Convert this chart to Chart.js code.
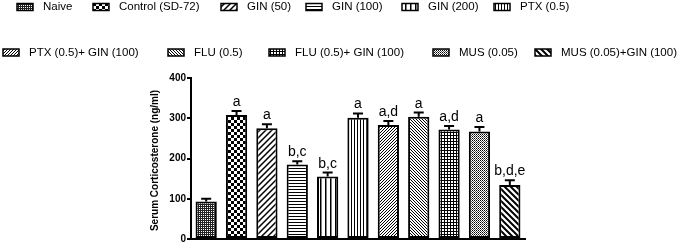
<!DOCTYPE html>
<html>
<head>
<meta charset="utf-8">
<script src="https://cdn.jsdelivr.net/npm/chart.js@4"></script>
<style>
    html, body { margin: 0; padding: 0; background: #fff; }
    #wrap { position: relative; width: 680px; height: 247px; }
</style>
</head>
<body>
<div id="wrap"><canvas id="chart" width="680" height="247"></canvas></div>
<script>
const groups = ['Naive', 'Control (SD-72)', 'GIN (50)', 'GIN (100)', 'GIN (200)', 'PTX (0.5)',
    'PTX (0.5)+ GIN (100)', 'FLU (0.5)', 'FLU (0.5)+ GIN (100)', 'MUS (0.05)', 'MUS (0.05)+GIN (100)'];
const means = [93, 308, 275, 185, 155, 301, 283, 304, 272, 267, 134];
const sems = [7, 10, 10, 8, 10, 11, 10, 10, 9, 11, 12];
const sigLetters = ['', 'a', 'a', 'b,c', 'b,c', 'a', 'a,d', 'a', 'a,d', 'a', 'b,d,e'];
const yTicks = [0, 100, 200, 300, 400];
const yTitle = 'Serum Corticosterone (ng/ml)';
const patternKinds = ['fineDots', 'checker', 'slash', 'hlines', 'vlinesWide', 'vlines',
    'fineSlash', 'fineBackslash', 'grid', 'greyDots', 'backslashWide'];

const FONT = '"Liberation Sans", Arial, sans-serif';

function makePattern(kind) {
    const c = document.createElement('canvas');
    let s = 6;
    if (['hlines', 'vlines', 'fineSlash', 'fineBackslash', 'grid'].includes(kind)) s = 3;
    if (kind === 'fineDots' || kind === 'greyDots') s = 2;
    if (kind === 'vlinesWide') s = 5;
    c.width = s;
    c.height = s;
    const g = c.getContext('2d');
    g.fillStyle = '#fff';
    g.fillRect(0, 0, s, s);
    g.fillStyle = '#000';
    g.strokeStyle = '#000';
    if (kind === 'fineDots') {
        g.fillStyle = '#222';
        g.fillRect(0, 0, 2, 2);
        g.fillStyle = '#fff';
        g.fillRect(1, 1, 1, 1);
    } else if (kind === 'greyDots') {
        g.fillRect(0, 0, 1, 1);
        g.fillStyle = '#555';
        g.fillRect(1, 1, 1, 1);
    } else if (kind === 'checker') {
        g.fillRect(0, 0, 3, 3);
        g.fillRect(3, 3, 3, 3);
    } else if (kind === 'hlines') {
        g.fillRect(0, 0, s, 1);
    } else if (kind === 'vlines') {
        g.fillRect(0, 0, 1, s);
    } else if (kind === 'vlinesWide') {
        g.fillRect(0, 0, 1.5, s);
    } else if (kind === 'grid') {
        g.fillRect(0, 0, s, 1);
        g.fillRect(0, 0, 1, s);
    } else {
        const back = kind.toLowerCase().includes('backslash');
        g.lineWidth = kind === 'backslashWide' ? 2 : (kind === 'slash' ? 1.5 : 1);
        g.beginPath();
        for (let k = -1; k <= 1; k++) {
            if (back) {
                g.moveTo(k * s - 1, -1);
                g.lineTo(k * s + s + 1, s + 1);
            } else {
                g.moveTo(k * s - 1, s + 1);
                g.lineTo(k * s + s + 1, -1);
            }
        }
        g.stroke();
    }
    return document.getElementById('chart').getContext('2d').createPattern(c, 'repeat');
}

const patterns = patternKinds.map(makePattern);

// legend rows are laid out like the original figure
const legendSlots = [
    [17, 7], [93, 7], [221, 7], [306, 7], [402, 7], [494, 7],
    [3, 52.5], [168, 52.5], [269, 52.5], [433, 52.5], [535, 52.5],
];

const legendPlugin = {
    id: 'figLegend',
    afterDraw(chart) {
        const ctx = chart.ctx;
        ctx.save();
        ctx.font = '11.5px ' + FONT;
        ctx.textBaseline = 'middle';
        ctx.textAlign = 'left';
        groups.forEach((name, i) => {
            const [x, y] = legendSlots[i];
            ctx.fillStyle = patterns[i];
            ctx.fillRect(x, y - 3.5, 16, 7);
            ctx.lineWidth = 1.5;
            ctx.strokeStyle = '#000';
            ctx.strokeRect(x, y - 3.5, 16, 7);
            ctx.fillStyle = '#000';
            ctx.fillText(name, x + 26, y);
        });

        // y axis title
        const area = chart.chartArea;
        ctx.translate(155, (area.top + area.bottom) / 2 + 2);
        ctx.rotate(-Math.PI / 2);
        ctx.font = 'bold 10px ' + FONT;
        ctx.textAlign = 'center';
        ctx.textBaseline = 'middle';
        ctx.fillText(yTitle, 0, 0);
        ctx.restore();
    },
};

const errorPlugin = {
    id: 'errorBars',
    afterDatasetsDraw(chart) {
        const ctx = chart.ctx;
        const yScale = chart.scales.y;
        const meta = chart.getDatasetMeta(0);
        ctx.save();
        ctx.strokeStyle = '#000';
        ctx.fillStyle = '#000';
        ctx.font = '14px ' + FONT;
        ctx.textAlign = 'center';
        ctx.textBaseline = 'alphabetic';
        meta.data.forEach((bar, i) => {
            const yTop = yScale.getPixelForValue(means[i] + sems[i]);
            const yMean = yScale.getPixelForValue(means[i]);
            ctx.lineWidth = 2;
            ctx.beginPath();
            ctx.moveTo(bar.x, yMean);
            ctx.lineTo(bar.x, yTop);
            ctx.moveTo(bar.x - 5, yTop);
            ctx.lineTo(bar.x + 5, yTop);
            ctx.stroke();
            if (sigLetters[i]) {
                ctx.fillText(sigLetters[i], bar.x, yTop - 5);
            }
        });
        ctx.restore();
    },
};

new Chart(document.getElementById('chart').getContext('2d'), {
    type: 'bar',
    data: {
        labels: groups,
        datasets: [
            {
                label: 'Serum Corticosterone',
                data: means,
                backgroundColor: patterns,
                borderColor: '#000',
                borderWidth: 2,
                borderSkipped: false,
                barPercentage: 0.7,
                categoryPercentage: 1,
            },
        ],
    },
    options: {
        responsive: false,
        animation: false,
        events: [],
        layout: {
            padding: { left: 0, top: 78, right: 155, bottom: 0 },
        },
        plugins: {
            legend: { display: false },
            tooltip: { enabled: false },
        },
        scales: {
            x: {
                grid: { display: false },
                ticks: { display: false },
                border: { color: '#000', width: 2 },
            },
            y: {
                min: 0,
                max: 400,
                afterBuildTicks(scale) {
                    scale.ticks = yTicks.map((v) => ({ value: v }));
                },
                afterFit(scale) {
                    scale.width = 191;
                },
                grid: {
                    drawOnChartArea: false,
                    drawTicks: true,
                    tickLength: 4,
                    color: '#000',
                    lineWidth: 2,
                },
                border: { color: '#000', width: 2 },
                ticks: {
                    color: '#000',
                    padding: 1,
                    font: { family: FONT, size: 10, weight: 'bold' },
                },
            },
        },
    },
    plugins: [legendPlugin, errorPlugin],
});
</script>
</body>
</html>
